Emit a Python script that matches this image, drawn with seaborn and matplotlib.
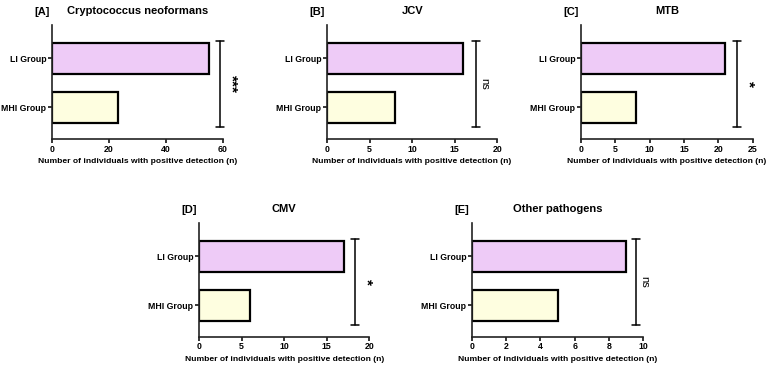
import pandas as pd
import matplotlib.pyplot as plt
import seaborn as sns

sns.set_theme(style="ticks")
plt.rcParams['font.family'] = ['Liberation Sans', 'DejaVu Sans']
plt.rcParams['font.weight'] = 'bold'
plt.rcParams['text.color'] = 'black'
plt.rcParams['xtick.color'] = 'black'
plt.rcParams['ytick.color'] = 'black'
plt.rcParams['axes.labelcolor'] = 'black'

# dados
groups = ["LI Group", "MHI Group"]
panel_tags = ["[A]", "[B]", "[C]", "[D]", "[E]"]
pathogens = ["Cryptococcus neoformans", "JCV", "MTB", "CMV", "Other pathogens"]
li_counts = [55, 16, 21, 17, 9]
mhi_counts = [23, 8, 8, 6, 5]
x_max = [60, 20, 25, 20, 10]
x_step = [20, 5, 5, 5, 2]
signif = ["***", "ns", "*", "*", "ns"]
bracket_x = [59, 17.5, 22.7, 18.3, 9.6]

colors = {"LI Group": "#EECBF7", "MHI Group": "#FEFEE0"}

# posições dos painéis em fração da figura
positions = [
    [0.0678, 0.623, 0.223, 0.309],
    [0.4263, 0.623, 0.222, 0.309],
    [0.7575, 0.623, 0.224, 0.309],
    [0.2595, 0.087, 0.222, 0.309],
    [0.6154, 0.087, 0.223, 0.309],
]

fig = plt.figure(figsize=(7.67, 3.69), dpi=100)

for i in range(5):
    ax = fig.add_axes(positions[i])
    df = pd.DataFrame({"group": groups, "n": [li_counts[i], mhi_counts[i]]})
    sns.barplot(data=df, x="n", y="group", hue="group", palette=colors, saturation=1,
                edgecolor="black", linewidth=1.6, width=0.63, ax=ax, legend=False)
    ax.set_ylim(1.65, -0.68)
    ax.set_xlim(0, x_max[i])
    ax.set_xticks(range(0, x_max[i] + 1, x_step[i]))
    sns.despine(ax=ax)
    for s in ["left", "bottom"]:
        ax.spines[s].set_linewidth(1.2)
        ax.spines[s].set_color("#222222")
    ax.tick_params(axis="both", length=3, width=1.1, labelsize=6.3, pad=1)
    for lab in ax.get_xticklabels() + ax.get_yticklabels():
        lab.set_fontweight("bold")
    ax.set_ylabel("")
    ax.set_xlabel("Number of individuals with positive detection (n)",
                  fontsize=6.1, fontweight="bold", labelpad=3)
    ax.set_title(pathogens[i], fontsize=8, fontweight="bold", pad=8)
    # rótulo do painel alinhado com o título
    ax.text(-0.06, 1.0 + 8 / (0.309 * 369), panel_tags[i], transform=ax.transAxes,
            ha="center", va="bottom", fontsize=8, fontweight="bold")

    # colchete de significância
    bx = bracket_x[i]
    cap = x_max[i] * 0.025
    ax.plot([bx, bx], [-0.36, 1.40], color="black", lw=1.1, clip_on=False)
    ax.plot([bx - cap, bx + cap], [-0.36, -0.36], color="black", lw=1.1, clip_on=False)
    ax.plot([bx - cap, bx + cap], [1.40, 1.40], color="black", lw=1.1, clip_on=False)
    if signif[i] == "ns":
        ax.text(bx + x_max[i] * 0.02, 0.52, "ns", rotation=270, ha="left",
                va="center", fontsize=8, fontweight="normal", clip_on=False)
    else:
        ax.text(bx + x_max[i] * 0.025, 0.52, signif[i], rotation=270, ha="left",
                va="center", fontsize=11, fontweight="bold", clip_on=False)

fig.savefig("out.png", dpi=100)
